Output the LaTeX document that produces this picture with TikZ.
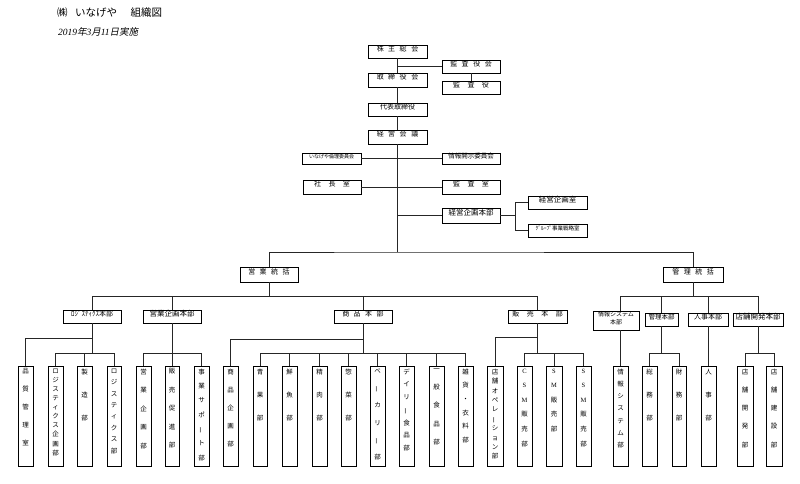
\documentclass[tikz,border=0pt]{standalone}
\usepackage{fontspec}
\setmainfont{Noto Sans CJK JP}
\newfontfamily\jpit{Noto Sans CJK JP}[FakeSlant=0.2]
\newfontfamily\lserif{Liberation Serif}
\usetikzlibrary{fit}
\newcommand\gp{\hspace{4.5pt}}
\newcommand\gq{\hspace{7.5pt}}
\newcommand\vbar{\rotatebox[origin=c]{90}{ー}}
\newcommand\la[1]{{\lserif #1}}
\tikzset{
  x=1pt, y=-1pt,
  bx/.style={draw=black, line width=0.9pt, inner sep=0pt, fill=white, font=\fontsize{7}{8}\selectfont},
  ln/.style={draw=black!85, line width=0.8pt},
  vt/.style={inner sep=0pt, anchor=north, align=center},
}
\newcommand\hbx[7][]{\node[bx,#1,fit={(#3,#4) (#5,#6)}] (#2) {#7};}
\newcommand\vtb[5]{%
  \node[bx,fit={(#2,366) (#3,466)}] (#1) {};
  \node[vt,font=\fontsize{6.5}{#4}\selectfont] (#1-t) at ([yshift=-3pt]#1.north) {#5};}
\begin{document}
\begin{tikzpicture}
\fill[white] (0,0) rectangle (800,483);
\useasboundingbox (0,0) rectangle (800,483);

\node[anchor=west, inner sep=0pt, font=\fontsize{10.5}{12}\selectfont] (title) at (57,13) {㈱\hspace{0.7em}いなげや\hspace{1.3em}組織図};
\node[anchor=west, inner sep=0pt, font=\fontsize{9.5}{11}\selectfont] (date) at (58,32) {{\lserif\itshape 2019}{\jpit 年}{\lserif\itshape 3}{\jpit 月}{\lserif\itshape 11}{\jpit 日実施}};

% top boxes
\hbx{kabunushi}{368}{45}{427}{58}{株\gp 主\gp 総\gp 会}
\hbx{kansayakukai}{442}{60}{500}{73}{監\gp 査\gp 役\gp 会}
\hbx{torishimari}{368}{73}{427}{87}{取\gp 締\gp 役\gp 会}
\hbx{kansayaku}{442}{81}{500}{94}{監\gq 査\gq 役}
\hbx{daihyo}{368}{103}{427}{116}{代表取締役}
\hbx{keiei}{368}{130}{427}{144}{経\gp 営\gp 会\gp 議}
\hbx[font=\fontsize{5}{6}\selectfont]{rinri}{302}{153}{361}{164}{いなげや倫理委員会}
\hbx[font=\fontsize{6.5}{7}\selectfont]{joho}{442}{153}{500}{164}{情報開示委員会}
\hbx{shacho}{303}{180}{361}{194}{社\gq 長\gq 室}
\hbx{kansashitsu}{442}{180}{500}{194}{監\gq 査\gq 室}
\hbx[font=\fontsize{7.5}{8}\selectfont]{kikaku}{442}{208}{500}{223}{経営企画本部}
\hbx[font=\fontsize{7.5}{8}\selectfont]{kikakushitsu}{528}{196}{587}{209}{経営企画室}
\hbx[font=\fontsize{5.5}{6}\selectfont]{group}{528}{224}{587}{237}{ｸﾞﾙｰﾌﾟ事業戦略室}

\hbx{eigyotokatsu}{240}{267}{298}{282}{営\gp 業\gp 統\gp 括}
\hbx{kanritokatsu}{663}{267}{723}{282}{管\gp 理\gp 統\gp 括}

\hbx{logihonbu}{63}{310}{121}{323}{ﾛｼﾞｽﾃｨｸｽ本部}
\hbx[font=\fontsize{7.5}{8}\selectfont]{eigyokikakuhonbu}{143}{310}{201}{323}{営業企画本部}
\hbx{shohinhonbu}{334}{310}{392}{323}{商\gp 品\gp 本\gp 部}
\hbx{hanbaihonbu}{508}{310}{567}{323}{販\gq 売\gq 本\gq 部}
\hbx[font=\fontsize{6}{8}\selectfont, align=center]{johosyshonbu}{593}{311}{639}{330}{情報システム\\本部}
\hbx[font=\fontsize{6.5}{8}\selectfont]{kanrihonbu}{645}{313}{678}{326}{管理本部}
\hbx{jinjihonbu}{688}{313}{728}{326}{人事本部}
\hbx[font=\fontsize{7.5}{8}\selectfont]{tenpokaihatsuhonbu}{733}{313}{783}{326}{店舗開発本部}

% bottom vertical boxes
\vtb{hinshitsu}{18}{33}{18}{品\\質\\管\\理\\室}
\vtb{logikikaku}{48}{63}{9.1}{ロ\\ジ\\ス\\テ\\ィ\\ク\\ス\\企\\画\\部}
\vtb{seizo}{77}{92}{23}{製\\造\\部}
\vtb{logibu}{107}{121}{11.4}{ロ\\ジ\\ス\\テ\\ィ\\ク\\ス\\部}
\vtb{eigyokikakubu}{136}{151}{18.5}{営\\業\\企\\画\\部}
\vtb{hanbaisokushin}{165}{179}{18.5}{販\\売\\促\\進\\部}
\vtb{jigyosupport}{194}{209}{14.3}{事\\業\\サ\\ポ\\\vbar\\ト\\部}
\vtb{shohinkikaku}{223}{238}{18}{商\\品\\企\\画\\部}
\vtb{seika}{253}{267}{23}{青\\果\\部}
\vtb{sengyo}{282}{297}{23}{鮮\\魚\\部}
\vtb{seiniku}{312}{327}{23}{精\\肉\\部}
\vtb{sozai}{341}{356}{23}{惣\\菜\\部}
\vtb{bakery}{370}{385}{17.2}{ベ\\\vbar\\カ\\リ\\\vbar\\部}
\vtb{daily}{399}{414}{12.7}{デ\\イ\\リ\\\vbar\\食\\品\\部}
\vtb{ippan}{429}{444}{18.2}{一\\般\\食\\品\\部}
\vtb{zakka}{458}{473}{13.6}{雑\\貨\\・\\衣\\料\\部}
\vtb{tenpoope}{487}{503}{9.4}{店\\舗\\オ\\ペ\\レ\\\vbar\\シ\\ョ\\ン\\部}
\vtb{csm}{517}{532}{14.6}{\la{C}\\\la{S}\\\la{M}\\販\\売\\部}
\vtb{sm}{546}{562}{14.5}{\la{S}\\\la{M}\\販\\売\\部}
\vtb{ssm}{576}{591}{14.6}{\la{S}\\\la{S}\\\la{M}\\販\\売\\部}
\vtb{johosysbu}{613}{628}{12.2}{情\\報\\シ\\ス\\テ\\ム\\部}
\vtb{somu}{642}{657}{23}{総\\務\\部}
\vtb{zaimu}{672}{686}{23}{財\\務\\部}
\vtb{jinjibu}{701}{716}{23}{人\\事\\部}
\vtb{tenpokaihatsu}{737}{753}{18.2}{店\\舗\\開\\発\\部}
\vtb{tenpokensetsu}{766}{782}{18.2}{店\\舗\\建\\設\\部}

% connectors
\coordinate (hub) at (397.5,252);
\coordinate (busy) at (0,353);
\draw[ln] (kabunushi) -- (torishimari);
\draw[ln] (torishimari) -- (daihyo);
\draw[ln] (daihyo) -- (keiei);
\draw[ln] (keiei.south) -- (hub);
\draw[ln] (kansayakukai.west) -- (kansayakukai.west -| kabunushi.south);
\draw[ln] (kansayakukai) -- (kansayaku);
\draw[ln] (rinri) -- (joho);
\draw[ln] (shacho) -- (kansashitsu);
\draw[ln] (kikaku.west) -- (kikaku.west -| hub);
\draw[ln] (kikaku.east) -- ++(15,0) coordinate (kj);
\draw[ln] (kikakushitsu.west) -- (kikakushitsu.west -| kj) -- (group.west -| kj) -- (group.west);
\draw[ln] (eigyotokatsu.north) |- (hub) -| (kanritokatsu.north);

\draw[ln] (eigyotokatsu.south) -- ++(0,14) coordinate (eb);
\draw[ln] (logihonbu.north) |- (eb) -| (hanbaihonbu.north);
\draw[ln] (eigyokikakuhonbu.north) -- (eigyokikakuhonbu.north |- eb);
\draw[ln] (shohinhonbu.north) -- (shohinhonbu.north |- eb);

\draw[ln] (kanritokatsu.south) -- ++(0,14) coordinate (kb);
\draw[ln] (johosyshonbu.north -| johosysbu.north) |- (kb) -| (tenpokaihatsuhonbu.north);
\draw[ln] (kanrihonbu.north) -- (kanrihonbu.north |- kb);
\draw[ln] (jinjihonbu.north) -- (jinjihonbu.north |- kb);

% logistics
\draw[ln] (logihonbu.south) -- (logihonbu.south |- busy);
\draw[ln] (hinshitsu.north) |- ([yshift=-15pt]logihonbu.south);
\draw[ln] (logikikaku.north) |- (logibu.north |- busy) -- (logibu.north);
\draw[ln] (seizo.north) -- (seizo.north |- busy);
% eigyo kikaku
\draw[ln] (eigyokikakuhonbu.south) -- (eigyokikakuhonbu.south |- busy);
\draw[ln] (eigyokikakubu.north) |- (jigyosupport.north |- busy) -- (jigyosupport.north);
\draw[ln] (hanbaisokushin.north) -- (hanbaisokushin.north |- busy);
% shohin
\draw[ln] (shohinhonbu.south) -- (shohinhonbu.south |- busy);
\draw[ln] (shohinkikaku.north) |- ([yshift=-16pt]shohinhonbu.south);
\draw[ln] (seika.north) |- (zakka.north |- busy) -- (zakka.north);
\draw[ln] (sengyo.north) -- (sengyo.north |- busy);
\draw[ln] (seiniku.north) -- (seiniku.north |- busy);
\draw[ln] (sozai.north) -- (sozai.north |- busy);
\draw[ln] (bakery.north) -- (bakery.north |- busy);
\draw[ln] (daily.north) -- (daily.north |- busy);
\draw[ln] (ippan.north) -- (ippan.north |- busy);
% hanbai
\draw[ln] (hanbaihonbu.south) -- (hanbaihonbu.south |- busy);
\draw[ln] (tenpoope.north) |- ([yshift=-14pt]hanbaihonbu.south);
\draw[ln] (csm.north) |- (ssm.north |- busy) -- (ssm.north);
\draw[ln] (sm.north) -- (sm.north |- busy);
% kanri
\draw[ln] (johosysbu.north) -- (johosysbu.north |- johosyshonbu.south);
\draw[ln] (kanrihonbu.south) -- (kanrihonbu.south |- busy);
\draw[ln] (somu.north) |- (zaimu.north |- busy) -- (zaimu.north);
\draw[ln] (jinjibu.north) -- (jinjibu.north |- jinjihonbu.south);
\draw[ln] (tenpokaihatsuhonbu.south) -- (tenpokaihatsuhonbu.south |- busy);
\draw[ln] (tenpokaihatsu.north) |- (tenpokensetsu.north |- busy) -- (tenpokensetsu.north);
\end{tikzpicture}
\end{document}
